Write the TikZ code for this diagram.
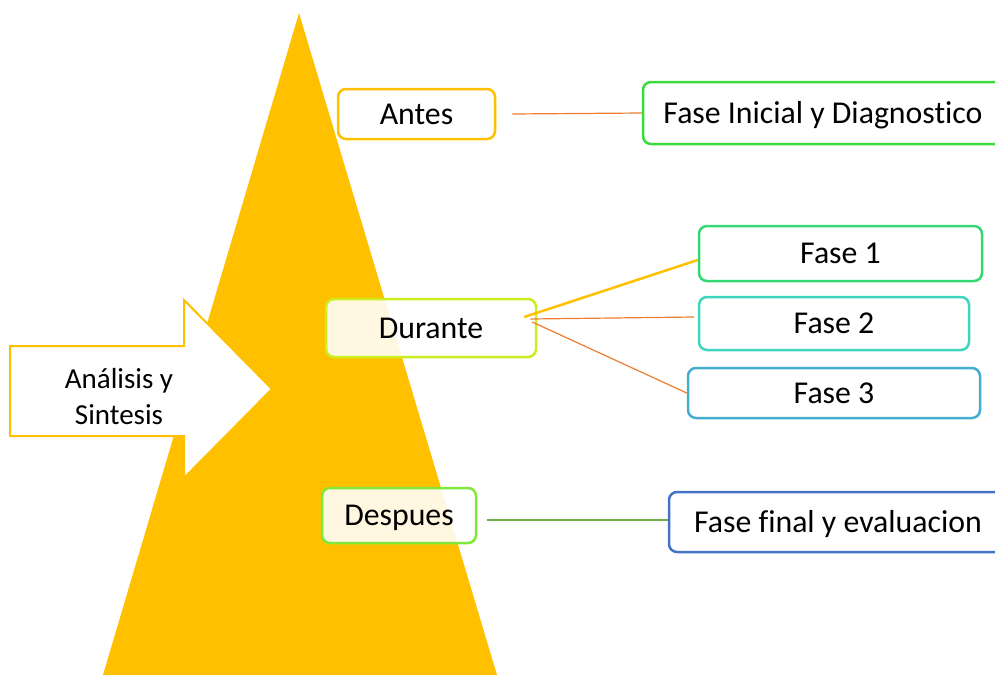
\documentclass[tikz,border=0pt]{standalone}
\usepackage{fontspec}
\setmainfont{Carlito}[Ligatures=NoCommon]
\usepackage{tikz}
\usetikzlibrary{positioning}
\definecolor{gold}{HTML}{FFC000}
\definecolor{orng}{HTML}{ED7D31}
\definecolor{grn}{HTML}{70AD47}
\definecolor{cIni}{HTML}{3BDB3B}
\definecolor{cDur}{HTML}{CCEE1E}
\definecolor{cF1}{HTML}{33D874}
\definecolor{cF2}{HTML}{3DD5BE}
\definecolor{cF3}{HTML}{45ADCF}
\definecolor{cDes}{HTML}{80E83A}
\definecolor{cFin}{HTML}{4472C4}
\tikzstyle{bx}=[draw,rectangle,rounded corners=8pt,line width=2.5pt,fill=white,inner sep=0pt,text height=24pt,text depth=4pt,font=\fontsize{31.8}{36}\selectfont]
\tikzstyle{ln}=[line width=1.2pt,orng]

\begin{document}
\begin{tikzpicture}[x=1pt,y=-1pt]
      \useasboundingbox (0,0) rectangle (995,675);
      \clip (0,0) rectangle (995,675);
      \fill [gold] (299,13) -- (497,675) -- (103,675) -- cycle;
      % flecha
      \draw [gold, line width=2pt, fill=white] (10,346) -- (184,346) -- (184,300) -- (272,389)
            -- (184,478) -- (184,436) -- (10,436) -- cycle;
      \node [align=center, font=\fontsize{29}{36}\selectfont] (as) at (119,397) {Análisis y\\Sintesis};
      \node [bx, draw=gold, minimum width=157pt, minimum height=50pt] (antes) at (416.5,114) {Antes};
      \node [bx, draw=cDur, fill opacity=.88, text opacity=1, minimum width=210pt, minimum height=58pt] (durante) at (431,328) {Durante};
      \node [bx, draw=cDes, fill opacity=.88, text opacity=1, minimum width=154pt, minimum height=55pt] (despues) at (399,515.5) {Despues};
      \node [bx, draw=cIni, minimum width=360pt, minimum height=62pt] (f0) at (823,113) {Fase Inicial y Diagnostico};
      \node [bx, draw=cF1, minimum width=283pt, minimum height=55pt] (f1) at (840.5,253.5) {Fase 1};
      \node [bx, draw=cF2, minimum width=270pt, minimum height=53pt] (f2) at (834,323.5) {Fase 2};
      \node [bx, draw=cF3, minimum width=292pt, minimum height=50pt] (f3) at (834,393) {Fase 3};
      \node [bx, draw=cFin, minimum width=338pt, minimum height=60pt] (f4) at (838,522) {Fase final y evaluacion};
      \draw [ln] ([xshift=16pt]antes.east) -- (f0.west);
      \draw [gold, line width=2.5pt] ([xshift=-13pt,yshift=11pt]durante.east) -- ([yshift=-6.5pt]f1.west);
      \draw [ln] ([xshift=-7pt,yshift=9pt]durante.east) -- ([xshift=-4pt,yshift=6.5pt]f2.west);
      \draw [ln] ([xshift=-5pt,yshift=6pt]durante.east) -- (f3.west);
      \draw [ln, grn] ([xshift=10pt,yshift=-4.5pt]despues.east) -- ([yshift=2pt]f4.west);
\end{tikzpicture}
\end{document}
